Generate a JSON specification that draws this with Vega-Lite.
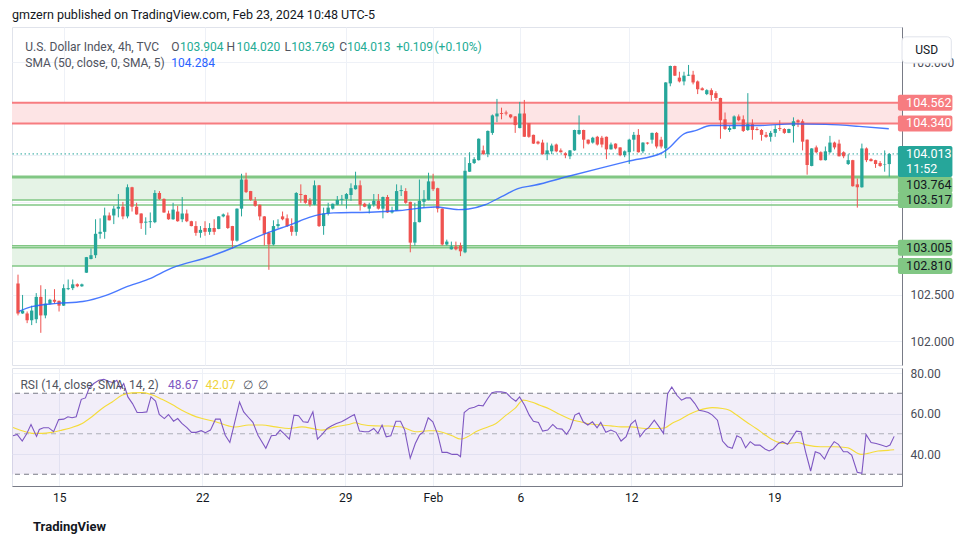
{
"$schema":"https://vega.github.io/schema/vega-lite/v6.json",
"padding":{"left":10,"top":8,"right":0,"bottom":0},
"spacing":0,
"config":{"font":"Roboto","view":{"stroke":"#e0e3eb"},"axis":{"gridColor":"#eef1f7","labelFont":"Roboto","labelFontSize":12,"labelColor":"#131722","ticks":false,"domain":false,"title":null},"title":{"font":"Roboto"}},
"datasets":{
"candles":[
{"n":1,"o":102.622,"h":102.716,"l":102.278,"c":102.299},
{"n":2,"o":102.299,"h":102.498,"l":102.295,"c":102.330},
{"n":3,"o":102.299,"h":102.320,"l":102.195,"c":102.226},
{"n":4,"o":102.226,"h":102.383,"l":102.174,"c":102.330},
{"n":5,"o":102.237,"h":102.518,"l":102.195,"c":102.477},
{"n":6,"o":102.477,"h":102.602,"l":102.091,"c":102.278},
{"n":7,"o":102.278,"h":102.560,"l":102.247,"c":102.404},
{"n":8,"o":102.404,"h":102.456,"l":102.394,"c":102.446},
{"n":9,"o":102.446,"h":102.560,"l":102.404,"c":102.425},
{"n":10,"o":102.435,"h":102.437,"l":102.320,"c":102.383},
{"n":11,"o":102.383,"h":102.612,"l":102.380,"c":102.571},
{"n":12,"o":102.560,"h":102.664,"l":102.550,"c":102.571},
{"n":13,"o":102.571,"h":102.664,"l":102.550,"c":102.612},
{"n":14,"o":102.612,"h":102.622,"l":102.581,"c":102.591},
{"n":15,"o":102.591,"h":102.620,"l":102.585,"c":102.612},
{"n":16,"o":102.737,"h":102.906,"l":102.735,"c":102.904},
{"n":17,"o":102.884,"h":102.998,"l":102.880,"c":102.925},
{"n":18,"o":102.925,"h":103.311,"l":102.894,"c":103.155},
{"n":19,"o":103.155,"h":103.321,"l":103.102,"c":103.176},
{"n":20,"o":103.176,"h":103.436,"l":103.102,"c":103.352},
{"n":21,"o":103.352,"h":103.384,"l":103.298,"c":103.300},
{"n":22,"o":103.352,"h":103.456,"l":103.259,"c":103.425},
{"n":23,"o":103.425,"h":103.582,"l":103.332,"c":103.446},
{"n":24,"o":103.446,"h":103.498,"l":103.311,"c":103.342},
{"n":25,"o":103.342,"h":103.686,"l":103.321,"c":103.655},
{"n":26,"o":103.655,"h":103.660,"l":103.394,"c":103.446},
{"n":27,"o":103.446,"h":103.488,"l":103.360,"c":103.363},
{"n":28,"o":103.373,"h":103.375,"l":103.207,"c":103.269},
{"n":29,"o":103.275,"h":103.332,"l":103.144,"c":103.285},
{"n":30,"o":103.280,"h":103.384,"l":103.217,"c":103.290},
{"n":31,"o":103.280,"h":103.624,"l":103.269,"c":103.593},
{"n":32,"o":103.593,"h":103.614,"l":103.519,"c":103.530},
{"n":33,"o":103.530,"h":103.535,"l":103.380,"c":103.384},
{"n":34,"o":103.373,"h":103.404,"l":103.305,"c":103.311},
{"n":35,"o":103.311,"h":103.488,"l":103.305,"c":103.415},
{"n":36,"o":103.394,"h":103.456,"l":103.285,"c":103.290},
{"n":37,"o":103.311,"h":103.550,"l":103.280,"c":103.373},
{"n":38,"o":103.373,"h":103.415,"l":103.280,"c":103.290},
{"n":39,"o":103.290,"h":103.295,"l":103.235,"c":103.238},
{"n":40,"o":103.238,"h":103.290,"l":103.134,"c":103.165},
{"n":41,"o":103.165,"h":103.238,"l":103.113,"c":103.197},
{"n":42,"o":103.217,"h":103.290,"l":103.134,"c":103.176},
{"n":43,"o":103.176,"h":103.269,"l":103.144,"c":103.217},
{"n":44,"o":103.217,"h":103.311,"l":103.144,"c":103.176},
{"n":45,"o":103.207,"h":103.345,"l":103.204,"c":103.342},
{"n":46,"o":103.342,"h":103.373,"l":103.332,"c":103.363},
{"n":47,"o":103.352,"h":103.384,"l":103.207,"c":103.217},
{"n":48,"o":103.238,"h":103.240,"l":102.998,"c":103.081},
{"n":49,"o":103.081,"h":103.428,"l":103.071,"c":103.425},
{"n":50,"o":103.425,"h":103.800,"l":103.342,"c":103.738},
{"n":51,"o":103.738,"h":103.811,"l":103.593,"c":103.603},
{"n":52,"o":103.614,"h":103.616,"l":103.509,"c":103.519},
{"n":53,"o":103.509,"h":103.550,"l":103.446,"c":103.456},
{"n":54,"o":103.467,"h":103.470,"l":103.300,"c":103.342},
{"n":55,"o":103.342,"h":103.345,"l":103.029,"c":103.155},
{"n":56,"o":103.165,"h":103.176,"l":102.768,"c":103.040},
{"n":57,"o":103.040,"h":103.300,"l":103.029,"c":103.238},
{"n":58,"o":103.238,"h":103.311,"l":103.217,"c":103.259},
{"n":59,"o":103.342,"h":103.394,"l":103.300,"c":103.311},
{"n":60,"o":103.321,"h":103.363,"l":103.228,"c":103.238},
{"n":61,"o":103.238,"h":103.321,"l":103.134,"c":103.176},
{"n":62,"o":103.176,"h":103.603,"l":103.134,"c":103.593},
{"n":63,"o":103.582,"h":103.686,"l":103.488,"c":103.572},
{"n":64,"o":103.572,"h":103.575,"l":103.478,"c":103.488},
{"n":65,"o":103.519,"h":103.540,"l":103.446,"c":103.467},
{"n":66,"o":103.467,"h":103.728,"l":103.462,"c":103.676},
{"n":67,"o":103.676,"h":103.680,"l":103.228,"c":103.238},
{"n":68,"o":103.238,"h":103.436,"l":103.144,"c":103.373},
{"n":69,"o":103.373,"h":103.488,"l":103.352,"c":103.436},
{"n":70,"o":103.425,"h":103.480,"l":103.415,"c":103.478},
{"n":71,"o":103.467,"h":103.561,"l":103.462,"c":103.519},
{"n":72,"o":103.519,"h":103.572,"l":103.467,"c":103.530},
{"n":73,"o":103.530,"h":103.593,"l":103.425,"c":103.582},
{"n":74,"o":103.572,"h":103.697,"l":103.509,"c":103.645},
{"n":75,"o":103.634,"h":103.822,"l":103.630,"c":103.676},
{"n":76,"o":103.676,"h":103.728,"l":103.404,"c":103.467},
{"n":77,"o":103.478,"h":103.488,"l":103.440,"c":103.446},
{"n":78,"o":103.425,"h":103.488,"l":103.373,"c":103.467},
{"n":79,"o":103.467,"h":103.582,"l":103.446,"c":103.509},
{"n":80,"o":103.509,"h":103.582,"l":103.415,"c":103.425},
{"n":81,"o":103.425,"h":103.555,"l":103.321,"c":103.550},
{"n":82,"o":103.550,"h":103.572,"l":103.380,"c":103.384},
{"n":83,"o":103.384,"h":103.446,"l":103.373,"c":103.404},
{"n":84,"o":103.404,"h":103.686,"l":103.400,"c":103.614},
{"n":85,"o":103.614,"h":103.676,"l":103.561,"c":103.624},
{"n":86,"o":103.614,"h":103.645,"l":103.478,"c":103.488},
{"n":87,"o":103.498,"h":103.500,"l":102.956,"c":103.060},
{"n":88,"o":103.060,"h":103.488,"l":103.029,"c":103.280},
{"n":89,"o":103.280,"h":103.738,"l":103.278,"c":103.509},
{"n":90,"o":103.498,"h":103.624,"l":103.436,"c":103.530},
{"n":91,"o":103.519,"h":103.811,"l":103.515,"c":103.718},
{"n":92,"o":103.718,"h":103.800,"l":103.614,"c":103.634},
{"n":93,"o":103.645,"h":103.650,"l":103.384,"c":103.425},
{"n":94,"o":103.425,"h":103.428,"l":103.029,"c":103.040},
{"n":95,"o":103.040,"h":103.092,"l":103.029,"c":103.071},
{"n":96,"o":102.988,"h":103.071,"l":102.985,"c":103.019},
{"n":97,"o":103.019,"h":103.071,"l":102.977,"c":102.988},
{"n":98,"o":103.029,"h":103.060,"l":102.915,"c":102.967},
{"n":99,"o":102.956,"h":103.978,"l":102.946,"c":103.832},
{"n":100,"o":103.822,"h":104.031,"l":103.820,"c":103.915},
{"n":101,"o":103.915,"h":103.978,"l":103.905,"c":103.957},
{"n":102,"o":103.946,"h":104.180,"l":103.942,"c":104.176},
{"n":103,"o":104.051,"h":104.103,"l":104.005,"c":104.010},
{"n":104,"o":104.010,"h":104.265,"l":103.978,"c":104.260},
{"n":105,"o":104.239,"h":104.437,"l":104.218,"c":104.427},
{"n":106,"o":104.416,"h":104.604,"l":104.354,"c":104.447},
{"n":107,"o":104.453,"h":104.510,"l":104.385,"c":104.443},
{"n":108,"o":104.458,"h":104.479,"l":104.427,"c":104.447},
{"n":109,"o":104.437,"h":104.440,"l":104.395,"c":104.406},
{"n":110,"o":104.416,"h":104.420,"l":104.239,"c":104.323},
{"n":111,"o":104.291,"h":104.572,"l":104.288,"c":104.447},
{"n":112,"o":104.447,"h":104.593,"l":104.195,"c":104.197},
{"n":113,"o":104.343,"h":104.345,"l":104.187,"c":104.197},
{"n":114,"o":104.218,"h":104.220,"l":104.120,"c":104.124},
{"n":115,"o":104.145,"h":104.155,"l":104.114,"c":104.124},
{"n":116,"o":104.135,"h":104.166,"l":104.005,"c":104.010},
{"n":117,"o":104.010,"h":104.135,"l":103.946,"c":104.051},
{"n":118,"o":104.041,"h":104.124,"l":104.010,"c":104.103},
{"n":119,"o":104.114,"h":104.124,"l":104.031,"c":104.041},
{"n":120,"o":104.051,"h":104.072,"l":104.028,"c":104.031},
{"n":121,"o":104.020,"h":104.031,"l":103.967,"c":103.999},
{"n":122,"o":103.988,"h":104.055,"l":103.957,"c":104.051},
{"n":123,"o":104.051,"h":104.273,"l":104.048,"c":104.270},
{"n":124,"o":104.228,"h":104.427,"l":104.218,"c":104.270},
{"n":125,"o":104.270,"h":104.273,"l":104.072,"c":104.166},
{"n":126,"o":104.166,"h":104.168,"l":104.114,"c":104.124},
{"n":127,"o":104.135,"h":104.197,"l":104.124,"c":104.187},
{"n":128,"o":104.197,"h":104.207,"l":104.103,"c":104.114},
{"n":129,"o":104.187,"h":104.207,"l":104.083,"c":104.114},
{"n":130,"o":104.197,"h":104.200,"l":103.957,"c":104.062},
{"n":131,"o":104.062,"h":104.135,"l":104.060,"c":104.114},
{"n":132,"o":104.124,"h":104.127,"l":104.062,"c":104.072},
{"n":133,"o":104.083,"h":104.085,"l":103.988,"c":103.999},
{"n":134,"o":103.999,"h":104.051,"l":103.978,"c":104.041},
{"n":135,"o":104.031,"h":104.176,"l":103.905,"c":104.166},
{"n":136,"o":104.166,"h":104.249,"l":104.041,"c":104.218},
{"n":137,"o":104.218,"h":104.280,"l":104.028,"c":104.031},
{"n":138,"o":104.041,"h":104.138,"l":104.020,"c":104.135},
{"n":139,"o":104.135,"h":104.138,"l":104.114,"c":104.124},
{"n":140,"o":104.166,"h":104.242,"l":104.124,"c":104.239},
{"n":141,"o":104.239,"h":104.249,"l":104.072,"c":104.093},
{"n":142,"o":104.166,"h":104.197,"l":104.072,"c":104.093},
{"n":143,"o":104.072,"h":104.784,"l":103.967,"c":104.781},
{"n":144,"o":104.771,"h":104.962,"l":104.740,"c":104.958},
{"n":145,"o":104.958,"h":104.962,"l":104.850,"c":104.854},
{"n":146,"o":104.833,"h":104.896,"l":104.781,"c":104.792},
{"n":147,"o":104.792,"h":104.896,"l":104.750,"c":104.854},
{"n":148,"o":104.854,"h":104.969,"l":104.850,"c":104.864},
{"n":149,"o":104.864,"h":104.906,"l":104.760,"c":104.781},
{"n":150,"o":104.792,"h":104.802,"l":104.656,"c":104.708},
{"n":151,"o":104.718,"h":104.729,"l":104.695,"c":104.698},
{"n":152,"o":104.656,"h":104.708,"l":104.645,"c":104.698},
{"n":153,"o":104.698,"h":104.718,"l":104.583,"c":104.645},
{"n":154,"o":104.666,"h":104.687,"l":104.593,"c":104.614},
{"n":155,"o":104.614,"h":104.617,"l":104.176,"c":104.375},
{"n":156,"o":104.385,"h":104.458,"l":104.270,"c":104.281},
{"n":157,"o":104.270,"h":104.312,"l":104.249,"c":104.291},
{"n":158,"o":104.281,"h":104.427,"l":104.278,"c":104.416},
{"n":159,"o":104.416,"h":104.437,"l":104.364,"c":104.375},
{"n":160,"o":104.385,"h":104.427,"l":104.249,"c":104.260},
{"n":161,"o":104.270,"h":104.666,"l":104.260,"c":104.333},
{"n":162,"o":104.333,"h":104.385,"l":104.166,"c":104.270},
{"n":163,"o":104.281,"h":104.301,"l":104.265,"c":104.270},
{"n":164,"o":104.270,"h":104.281,"l":104.155,"c":104.218},
{"n":165,"o":104.218,"h":104.249,"l":104.187,"c":104.197},
{"n":166,"o":104.197,"h":104.260,"l":104.145,"c":104.239},
{"n":167,"o":104.239,"h":104.322,"l":104.197,"c":104.281},
{"n":168,"o":104.291,"h":104.375,"l":104.260,"c":104.281},
{"n":169,"o":104.281,"h":104.291,"l":104.228,"c":104.239},
{"n":170,"o":104.239,"h":104.284,"l":104.236,"c":104.281},
{"n":171,"o":104.312,"h":104.406,"l":104.135,"c":104.364},
{"n":172,"o":104.375,"h":104.385,"l":104.301,"c":104.354},
{"n":173,"o":104.364,"h":104.385,"l":104.051,"c":104.145},
{"n":174,"o":104.166,"h":104.168,"l":103.790,"c":103.894},
{"n":175,"o":103.884,"h":104.075,"l":103.880,"c":104.072},
{"n":176,"o":104.083,"h":104.103,"l":104.020,"c":104.031},
{"n":177,"o":104.031,"h":104.041,"l":103.942,"c":103.946},
{"n":178,"o":103.946,"h":104.093,"l":103.942,"c":104.041},
{"n":179,"o":104.031,"h":104.207,"l":104.020,"c":104.135},
{"n":180,"o":104.135,"h":104.145,"l":104.062,"c":104.083},
{"n":181,"o":104.124,"h":104.166,"l":103.985,"c":103.988},
{"n":182,"o":104.031,"h":104.041,"l":103.967,"c":103.988},
{"n":183,"o":103.905,"h":104.010,"l":103.894,"c":103.946},
{"n":184,"o":103.946,"h":103.950,"l":103.662,"c":103.666},
{"n":185,"o":103.686,"h":103.749,"l":103.436,"c":103.655},
{"n":186,"o":103.655,"h":104.124,"l":103.650,"c":104.072},
{"n":187,"o":104.072,"h":104.083,"l":103.925,"c":103.946},
{"n":188,"o":103.957,"h":103.967,"l":103.932,"c":103.936},
{"n":189,"o":103.946,"h":103.950,"l":103.863,"c":103.905},
{"n":190,"o":103.915,"h":103.936,"l":103.874,"c":103.884},
{"n":191,"o":103.900,"h":104.051,"l":103.822,"c":103.905},
{"n":192,"o":103.904,"h":104.020,"l":103.769,"c":104.013}
],
"sma":[
{"n":1.15,"v":102.320},{"n":4.0,"v":102.372},{"n":9.5,"v":102.407},{"n":15.2,"v":102.428},{"n":20.3,"v":102.494},{"n":24.6,"v":102.581},{"n":29.6,"v":102.667},{"n":34.8,"v":102.789},{"n":43.1,"v":102.911},{"n":48.1,"v":103.005},{"n":51.7,"v":103.085},{"n":56.1,"v":103.172},{"n":61.1,"v":103.259},{"n":64.7,"v":103.328},{"n":67.3,"v":103.363},{"n":70.2,"v":103.380},{"n":78.1,"v":103.387},{"n":84.7,"v":103.405},{"n":92.5,"v":103.443},{"n":97.6,"v":103.415},{"n":99.8,"v":103.422},{"n":103.4,"v":103.467},{"n":107.0,"v":103.554},{"n":110.6,"v":103.641},{"n":114.2,"v":103.676},{"n":121.5,"v":103.770},{"n":128.7,"v":103.861},{"n":134.8,"v":103.936},{"n":142.1,"v":104.023},{"n":143.4,"v":104.065},{"n":147.1,"v":104.232},{"n":149.3,"v":104.260},{"n":152.9,"v":104.319},{"n":156.5,"v":104.319},{"n":163.7,"v":104.319},{"n":170.9,"v":104.336},{"n":178.1,"v":104.330},{"n":185.4,"v":104.309},{"n":191.9,"v":104.284}
],
"rsi":[
{"n":1.0,"v":49.0},{"n":1.9,"v":49.7},{"n":3.0,"v":46.4},{"n":3.9,"v":49.7},{"n":4.9,"v":54.6},{"n":6.1,"v":48.7},{"n":6.7,"v":52.1},{"n":7.6,"v":53.0},{"n":8.7,"v":53.0},{"n":9.8,"v":51.0},{"n":10.9,"v":57.0},{"n":12.0,"v":57.2},{"n":12.9,"v":58.4},{"n":13.8,"v":57.9},{"n":14.7,"v":58.4},{"n":15.8,"v":67.0},{"n":16.7,"v":67.7},{"n":17.5,"v":72.6},{"n":18.5,"v":74.8},{"n":19.6,"v":76.4},{"n":20.7,"v":76.9},{"n":21.7,"v":75.9},{"n":22.7,"v":75.2},{"n":23.5,"v":76.4},{"n":24.3,"v":72.3},{"n":25.0,"v":74.8},{"n":25.9,"v":68.2},{"n":26.9,"v":64.9},{"n":27.9,"v":60.5},{"n":29.0,"v":60.5},{"n":30.0,"v":60.8},{"n":30.9,"v":68.2},{"n":31.9,"v":66.1},{"n":32.7,"v":59.5},{"n":33.8,"v":57.5},{"n":34.7,"v":59.5},{"n":35.8,"v":56.2},{"n":36.7,"v":57.5},{"n":37.6,"v":55.1},{"n":38.7,"v":53.0},{"n":39.7,"v":50.7},{"n":40.7,"v":50.7},{"n":41.8,"v":51.5},{"n":42.7,"v":50.5},{"n":43.8,"v":51.8},{"n":44.9,"v":57.2},{"n":45.9,"v":57.2},{"n":47.0,"v":49.3},{"n":48.0,"v":45.7},{"n":49.0,"v":55.1},{"n":50.1,"v":65.7},{"n":51.0,"v":60.8},{"n":52.1,"v":57.9},{"n":53.0,"v":55.6},{"n":54.1,"v":49.3},{"n":55.8,"v":42.8},{"n":57.0,"v":49.0},{"n":58.0,"v":49.3},{"n":58.9,"v":51.8},{"n":59.9,"v":49.7},{"n":60.9,"v":47.4},{"n":61.9,"v":59.2},{"n":62.9,"v":58.9},{"n":63.9,"v":55.9},{"n":64.9,"v":55.6},{"n":66.0,"v":60.8},{"n":67.0,"v":47.4},{"n":68.0,"v":49.7},{"n":69.1,"v":52.6},{"n":70.1,"v":53.9},{"n":71.1,"v":55.1},{"n":72.2,"v":55.9},{"n":73.2,"v":57.2},{"n":74.1,"v":58.4},{"n":75.0,"v":59.5},{"n":76.1,"v":51.3},{"n":77.2,"v":51.0},{"n":78.1,"v":51.0},{"n":79.2,"v":52.6},{"n":80.1,"v":50.2},{"n":81.0,"v":54.3},{"n":81.9,"v":48.5},{"n":82.9,"v":49.0},{"n":84.0,"v":56.2},{"n":85.0,"v":56.2},{"n":85.9,"v":51.8},{"n":87.1,"v":37.9},{"n":88.2,"v":45.2},{"n":89.1,"v":49.3},{"n":90.0,"v":51.0},{"n":91.0,"v":57.9},{"n":92.0,"v":55.9},{"n":93.1,"v":49.3},{"n":94.0,"v":40.8},{"n":95.1,"v":40.8},{"n":96.2,"v":39.8},{"n":97.3,"v":39.8},{"n":98.0,"v":38.7},{"n":98.8,"v":60.5},{"n":99.9,"v":62.5},{"n":101.0,"v":63.1},{"n":101.9,"v":64.1},{"n":102.9,"v":63.8},{"n":103.9,"v":67.4},{"n":104.8,"v":70.3},{"n":105.7,"v":70.7},{"n":106.8,"v":70.7},{"n":107.9,"v":70.3},{"n":109.0,"v":67.7},{"n":110.0,"v":66.1},{"n":110.8,"v":68.2},{"n":111.9,"v":64.1},{"n":112.9,"v":59.2},{"n":113.8,"v":56.2},{"n":114.9,"v":55.6},{"n":115.8,"v":51.3},{"n":116.9,"v":51.8},{"n":118.0,"v":54.6},{"n":118.9,"v":52.6},{"n":120.0,"v":52.3},{"n":121.0,"v":49.7},{"n":121.8,"v":52.6},{"n":122.8,"v":59.2},{"n":123.7,"v":60.3},{"n":124.6,"v":55.9},{"n":125.6,"v":54.3},{"n":126.6,"v":55.9},{"n":127.6,"v":52.9},{"n":128.4,"v":55.6},{"n":129.5,"v":50.7},{"n":130.6,"v":51.8},{"n":131.7,"v":50.7},{"n":132.8,"v":46.4},{"n":133.9,"v":48.5},{"n":134.9,"v":54.6},{"n":135.9,"v":56.7},{"n":136.9,"v":48.5},{"n":138.0,"v":51.8},{"n":138.8,"v":53.0},{"n":140.0,"v":56.7},{"n":140.9,"v":53.9},{"n":142.0,"v":50.2},{"n":142.9,"v":69.8},{"n":143.8,"v":73.1},{"n":144.9,"v":69.0},{"n":145.9,"v":66.6},{"n":146.9,"v":67.7},{"n":147.8,"v":67.7},{"n":148.8,"v":64.9},{"n":149.7,"v":61.6},{"n":150.8,"v":61.1},{"n":151.7,"v":60.5},{"n":152.6,"v":59.2},{"n":153.7,"v":56.7},{"n":154.8,"v":46.4},{"n":155.9,"v":43.6},{"n":156.9,"v":42.8},{"n":157.9,"v":49.0},{"n":158.8,"v":48.0},{"n":159.8,"v":43.1},{"n":160.8,"v":46.1},{"n":161.8,"v":44.4},{"n":162.9,"v":44.4},{"n":164.0,"v":42.5},{"n":164.9,"v":41.5},{"n":165.8,"v":42.5},{"n":166.9,"v":45.2},{"n":167.8,"v":46.1},{"n":168.9,"v":44.8},{"n":169.8,"v":47.7},{"n":170.8,"v":51.3},{"n":171.8,"v":51.0},{"n":172.8,"v":41.1},{"n":173.9,"v":31.6},{"n":174.9,"v":41.1},{"n":175.9,"v":40.3},{"n":176.9,"v":37.5},{"n":177.9,"v":42.5},{"n":179.0,"v":46.1},{"n":179.9,"v":44.8},{"n":181.0,"v":41.1},{"n":181.9,"v":41.1},{"n":182.8,"v":39.5},{"n":184.0,"v":31.0},{"n":185.0,"v":30.5},{"n":185.9,"v":49.7},{"n":187.0,"v":45.7},{"n":188.1,"v":45.2},{"n":189.2,"v":44.4},{"n":190.3,"v":43.6},{"n":191.1,"v":44.4},{"n":192.0,"v":48.7}
],
"rsima":[
{"n":1.0,"v":53.1},{"n":2.95,"v":51.5},{"n":5.1,"v":50.2},{"n":7.3,"v":50.2},{"n":9.4,"v":50.7},{"n":11.6,"v":51.8},{"n":13.8,"v":53.1},{"n":16.0,"v":55.1},{"n":18.1,"v":58.4},{"n":20.3,"v":62.5},{"n":22.5,"v":65.7},{"n":24.6,"v":69.0},{"n":26.8,"v":70.2},{"n":29.0,"v":70.3},{"n":31.1,"v":69.3},{"n":33.3,"v":67.0},{"n":35.5,"v":64.4},{"n":37.6,"v":61.6},{"n":39.8,"v":59.2},{"n":42.0,"v":57.5},{"n":44.9,"v":55.9},{"n":47.7,"v":53.9},{"n":49.2,"v":53.3},{"n":52.1,"v":54.3},{"n":55.0,"v":54.3},{"n":57.9,"v":53.4},{"n":60.8,"v":52.6},{"n":63.6,"v":53.4},{"n":66.5,"v":52.3},{"n":68.0,"v":51.8},{"n":70.9,"v":53.4},{"n":73.8,"v":54.6},{"n":75.2,"v":55.4},{"n":76.6,"v":54.6},{"n":79.5,"v":53.9},{"n":82.4,"v":53.8},{"n":85.3,"v":53.3},{"n":88.2,"v":51.0},{"n":91.1,"v":51.5},{"n":92.5,"v":51.5},{"n":94.0,"v":50.7},{"n":96.2,"v":49.0},{"n":98.0,"v":47.4},{"n":99.5,"v":48.5},{"n":101.3,"v":51.0},{"n":103.5,"v":53.0},{"n":105.7,"v":55.1},{"n":107.9,"v":59.2},{"n":109.8,"v":62.5},{"n":111.6,"v":66.6},{"n":113.4,"v":65.7},{"n":115.2,"v":64.1},{"n":117.4,"v":62.1},{"n":119.6,"v":59.5},{"n":121.8,"v":57.2},{"n":124.0,"v":55.9},{"n":126.2,"v":54.8},{"n":128.4,"v":54.3},{"n":130.6,"v":53.9},{"n":132.8,"v":53.4},{"n":135.0,"v":53.4},{"n":138.0,"v":52.6},{"n":140.9,"v":52.6},{"n":142.4,"v":53.0},{"n":143.8,"v":55.1},{"n":145.3,"v":56.7},{"n":147.5,"v":59.5},{"n":149.7,"v":61.6},{"n":152.6,"v":62.9},{"n":154.8,"v":62.5},{"n":156.3,"v":61.6},{"n":157.7,"v":59.5},{"n":159.9,"v":55.9},{"n":162.1,"v":52.6},{"n":164.3,"v":49.0},{"n":166.5,"v":46.1},{"n":168.7,"v":45.2},{"n":170.9,"v":45.7},{"n":173.1,"v":44.4},{"n":176.0,"v":43.6},{"n":179.0,"v":43.6},{"n":181.9,"v":43.1},{"n":184.8,"v":39.8},{"n":186.3,"v":40.3},{"n":188.5,"v":41.5},{"n":190.7,"v":41.8},{"n":192.0,"v":42.1}
]
},
"vconcat":[
{
"width":890,"height":338,
"title":{"text":"gmzern published on TradingView.com, Feb 23, 2024 10:48 UTC-5","anchor":"start","frame":"group","fontSize":12.5,"fontWeight":"normal","color":"#131722","offset":6},
"layer":[
{"data":{"values":[{"hi":104.562,"lo":104.340}]},
 "mark":{"type":"rect","color":"#fde4e5"},
 "encoding":{"y":{"field":"hi","type":"quantitative","scale":{"domain":[101.799,105.323],"nice":false,"zero":false}},"y2":{"field":"lo"}}},
{"data":{"values":[{"hi":103.764,"lo":103.517},{"hi":103.026,"lo":102.810}]},
 "mark":{"type":"rect","color":"#e5f3e6"},
 "encoding":{"y":{"field":"hi","type":"quantitative"},"y2":{"field":"lo"}}},
{"data":{"values":[{"p":104.562},{"p":104.340}]},
 "mark":{"type":"rule","color":"#f77c80","strokeWidth":2},
 "encoding":{"y":{"field":"p","type":"quantitative"}}},
{"data":{"values":[{"p":103.764}]},
 "mark":{"type":"rule","color":"#81c784","strokeWidth":3},
 "encoding":{"y":{"field":"p","type":"quantitative"}}},
{"data":{"values":[{"p":103.517},{"p":103.464},{"p":103.026},{"p":103.005},{"p":102.810}]},
 "mark":{"type":"rule","color":"#81c784","strokeWidth":1.5},
 "encoding":{"y":{"field":"p","type":"quantitative"}}},
{"data":{"values":[{"p":104.013}]},
 "mark":{"type":"rule","color":"#26a69a","strokeDash":[1.5,2.5],"strokeWidth":1},
 "encoding":{"y":{"field":"p","type":"quantitative"}}},
{"data":{"name":"candles"},
 "mark":{"type":"rule","strokeWidth":1},
 "encoding":{
  "x":{"field":"n","type":"quantitative","scale":{"domain":[0.78,193.7],"nice":false,"zero":false},
   "axis":{"values":[11,42,73,92,111,135,166],"labels":false,"grid":true,"domain":false}},
  "y":{"field":"l","type":"quantitative","axis":{"orient":"right","values":[102,102.5,103,103.5,104,104.5,105],"labelExpr":"datum.value < 102.75 || datum.value > 104.75 ? format(datum.value, '.3f') : ''","grid":true,"domain":true,"domainColor":"#787b86","labelPadding":8,"labelColor":"#4a4d57"}},
  "y2":{"field":"h"},
  "color":{"condition":{"test":"datum.c >= datum.o","value":"#26a69a"},"value":"#ef5350"}}},
{"data":{"name":"candles"},
 "mark":{"type":"bar","size":3.3},
 "encoding":{
  "x":{"field":"n","type":"quantitative"},
  "y":{"field":"o","type":"quantitative"},
  "y2":{"field":"c"},
  "color":{"condition":{"test":"datum.c >= datum.o","value":"#26a69a"},"value":"#ef5350"}}},
{"data":{"name":"sma"},
 "mark":{"type":"line","color":"#2962ff","strokeWidth":1.4,"opacity":0.85,"interpolate":"monotone"},
 "encoding":{"x":{"field":"n","type":"quantitative"},"y":{"field":"v","type":"quantitative"}}},
{"data":{"values":[{"p":104.562},{"p":104.340}]},
 "mark":{"type":"bar","size":16,"cornerRadius":2,"color":"#f77c80"},
 "encoding":{"x":{"datum":193.9,"type":"quantitative"},"x2":{"datum":205.85},"y":{"field":"p","type":"quantitative"}}},
{"data":{"values":[{"p":103.517},{"p":103.005},{"p":102.810}]},
 "mark":{"type":"bar","size":16,"cornerRadius":2,"color":"#81c784"},
 "encoding":{"x":{"datum":193.9,"type":"quantitative"},"x2":{"datum":205.85},"y":{"field":"p","type":"quantitative"}}},
{"data":{"values":[{"p":103.764}]},
 "mark":{"type":"bar","size":16,"cornerRadius":2,"yOffset":8,"color":"#81c784"},
 "encoding":{"x":{"datum":193.9,"type":"quantitative"},"x2":{"datum":205.85},"y":{"field":"p","type":"quantitative"}}},
{"data":{"values":[{"p":104.013}]},
 "mark":{"type":"bar","size":31,"cornerRadius":2,"yOffset":7.5,"color":"#26a69a"},
 "encoding":{"x":{"datum":193.9,"type":"quantitative"},"x2":{"datum":205.85},"y":{"field":"p","type":"quantitative"}}},
{"data":{"values":[{"p":104.562},{"p":104.340}]},
 "mark":{"type":"text","align":"left","baseline":"middle","fontSize":12.5,"color":"#ffffff"},
 "encoding":{"x":{"datum":195.7,"type":"quantitative"},"y":{"field":"p","type":"quantitative"},"text":{"field":"p","type":"quantitative","format":".3f"}}},
{"data":{"values":[{"p":103.517},{"p":103.005},{"p":102.810}]},
 "mark":{"type":"text","align":"left","baseline":"middle","fontSize":12.5,"color":"#131722"},
 "encoding":{"x":{"datum":195.7,"type":"quantitative"},"y":{"field":"p","type":"quantitative"},"text":{"field":"p","type":"quantitative","format":".3f"}}},
{"data":{"values":[{"p":103.764}]},
 "mark":{"type":"text","align":"left","baseline":"middle","fontSize":12.5,"yOffset":8,"color":"#131722"},
 "encoding":{"x":{"datum":195.7,"type":"quantitative"},"y":{"field":"p","type":"quantitative"},"text":{"field":"p","type":"quantitative","format":".3f"}}},
{"data":{"values":[{"p":104.013}]},
 "mark":{"type":"text","align":"left","baseline":"middle","fontSize":12.5,"color":"#ffffff"},
 "encoding":{"x":{"datum":195.7,"type":"quantitative"},"y":{"field":"p","type":"quantitative"},"text":{"field":"p","type":"quantitative","format":".3f"}}},
{"data":{"values":[{"p":104.013,"t":"11:52"}]},
 "mark":{"type":"text","align":"left","baseline":"middle","fontSize":12.5,"yOffset":15,"color":"#ffffff"},
 "encoding":{"x":{"datum":195.7,"type":"quantitative"},"y":{"field":"p","type":"quantitative"},"text":{"field":"t"}}},
{"data":{"values":[{}]},
 "mark":{"type":"rect","fill":"#ffffff","stroke":"#e0e3eb","cornerRadius":4},
 "encoding":{"x":{"datum":194.8,"type":"quantitative"},"x2":{"datum":205.6},"y":{"datum":105.271,"type":"quantitative"},"y2":{"datum":104.99}}},
{"data":{"values":[{}]},
 "mark":{"type":"text","align":"center","baseline":"middle","fontSize":12,"color":"#131722"},
 "encoding":{"x":{"datum":200.2,"type":"quantitative"},"y":{"datum":105.13,"type":"quantitative"},"text":{"value":"USD"}}},
{"data":{"values":[{}]},"mark":{"type":"text","align":"left","baseline":"middle","fontSize":12,"color":"#50535e"},
 "encoding":{"x":{"datum":2.6,"type":"quantitative"},"y":{"datum":105.16,"type":"quantitative"},"text":{"value":"U.S. Dollar Index, 4h, TVC"}}},
{"data":{"values":[{}]},"mark":{"type":"text","align":"left","baseline":"middle","fontSize":12,"color":"#50535e"},
 "encoding":{"x":{"datum":34.6,"type":"quantitative"},"y":{"datum":105.16,"type":"quantitative"},"text":{"value":"O"}}},
{"data":{"values":[{}]},"mark":{"type":"text","align":"left","baseline":"middle","fontSize":12,"color":"#22ab94"},
 "encoding":{"x":{"datum":36.5,"type":"quantitative"},"y":{"datum":105.16,"type":"quantitative"},"text":{"value":"103.904"}}},
{"data":{"values":[{}]},"mark":{"type":"text","align":"left","baseline":"middle","fontSize":12,"color":"#50535e"},
 "encoding":{"x":{"datum":46.7,"type":"quantitative"},"y":{"datum":105.16,"type":"quantitative"},"text":{"value":"H"}}},
{"data":{"values":[{}]},"mark":{"type":"text","align":"left","baseline":"middle","fontSize":12,"color":"#22ab94"},
 "encoding":{"x":{"datum":48.9,"type":"quantitative"},"y":{"datum":105.16,"type":"quantitative"},"text":{"value":"104.020"}}},
{"data":{"values":[{}]},"mark":{"type":"text","align":"left","baseline":"middle","fontSize":12,"color":"#50535e"},
 "encoding":{"x":{"datum":59.4,"type":"quantitative"},"y":{"datum":105.16,"type":"quantitative"},"text":{"value":"L"}}},
{"data":{"values":[{}]},"mark":{"type":"text","align":"left","baseline":"middle","fontSize":12,"color":"#22ab94"},
 "encoding":{"x":{"datum":60.9,"type":"quantitative"},"y":{"datum":105.16,"type":"quantitative"},"text":{"value":"103.769"}}},
{"data":{"values":[{}]},"mark":{"type":"text","align":"left","baseline":"middle","fontSize":12,"color":"#50535e"},
 "encoding":{"x":{"datum":71.4,"type":"quantitative"},"y":{"datum":105.16,"type":"quantitative"},"text":{"value":"C"}}},
{"data":{"values":[{}]},"mark":{"type":"text","align":"left","baseline":"middle","fontSize":12,"color":"#22ab94"},
 "encoding":{"x":{"datum":73.1,"type":"quantitative"},"y":{"datum":105.16,"type":"quantitative"},"text":{"value":"104.013"}}},
{"data":{"values":[{}]},"mark":{"type":"text","align":"left","baseline":"middle","fontSize":12,"color":"#22ab94"},
 "encoding":{"x":{"datum":83.9,"type":"quantitative"},"y":{"datum":105.16,"type":"quantitative"},"text":{"value":"+0.109"}}},
{"data":{"values":[{}]},"mark":{"type":"text","align":"left","baseline":"middle","fontSize":12,"color":"#22ab94"},
 "encoding":{"x":{"datum":92.3,"type":"quantitative"},"y":{"datum":105.16,"type":"quantitative"},"text":{"value":"(+0.10%)"}}},
{"data":{"values":[{}]},"mark":{"type":"text","align":"left","baseline":"middle","fontSize":12,"color":"#50535e"},
 "encoding":{"x":{"datum":2.6,"type":"quantitative"},"y":{"datum":104.987,"type":"quantitative"},"text":{"value":"SMA (50, close, 0, SMA, 5)"}}},
{"data":{"values":[{}]},"mark":{"type":"text","align":"left","baseline":"middle","fontSize":12,"color":"#2962ff"},
 "encoding":{"x":{"datum":34.6,"type":"quantitative"},"y":{"datum":104.987,"type":"quantitative"},"text":{"value":"104.284"}}}
]
},
{
"width":890,"height":118,
"title":{"text":"TradingView","orient":"bottom","anchor":"start","frame":"group","fontSize":13,"fontWeight":"bold","color":"#131722","offset":18,"dx":21},
"layer":[
{"data":{"values":[{}]},
 "mark":{"type":"rect","color":"#7e57c2","opacity":0.1},
 "encoding":{"y":{"datum":70,"type":"quantitative","scale":{"domain":[24.2,82.47],"nice":false,"zero":false}},"y2":{"datum":30}}},
{"data":{"values":[{"v":70},{"v":30}]},
 "mark":{"type":"rule","color":"#787b86","strokeDash":[5,4],"strokeWidth":1},
 "encoding":{"y":{"field":"v","type":"quantitative"}}},
{"data":{"values":[{"v":50}]},
 "mark":{"type":"rule","color":"#787b86","strokeDash":[5,4],"strokeWidth":1,"opacity":0.55},
 "encoding":{"y":{"field":"v","type":"quantitative"}}},
{"data":{"name":"rsima"},
 "mark":{"type":"line","color":"#f5dc3a","strokeWidth":1.1,"interpolate":"monotone"},
 "encoding":{"x":{"field":"n","type":"quantitative"},"y":{"field":"v","type":"quantitative"}}},
{"data":{"name":"rsi"},
 "mark":{"type":"line","color":"#7e57c2","strokeWidth":1.1},
 "encoding":{
  "x":{"field":"n","type":"quantitative","scale":{"domain":[0.78,193.7],"nice":false,"zero":false},
   "axis":{"values":[11,42,73,92,111,135,166],"grid":true,"domain":true,"domainColor":"#787b86","labelPadding":6,"labelColor":"#131722",
    "labelExpr":"datum.value == 11 ? '15' : datum.value == 42 ? '22' : datum.value == 73 ? '29' : datum.value == 92 ? 'Feb' : datum.value == 111 ? '6' : datum.value == 135 ? '12' : '19'"}},
  "y":{"field":"v","type":"quantitative","axis":{"orient":"right","values":[40,60,80],"format":".2f","grid":true,"domain":true,"domainColor":"#787b86","labelPadding":8,"labelColor":"#4a4d57"}}}},
{"data":{"values":[{}]},"mark":{"type":"text","align":"left","baseline":"middle","fontSize":12,"color":"#50535e"},
 "encoding":{"x":{"datum":2.6,"type":"quantitative"},"y":{"datum":74.3,"type":"quantitative"},"text":{"value":"RSI (14, close, SMA, 14, 2)"}}},
{"data":{"values":[{}]},"mark":{"type":"text","align":"left","baseline":"middle","fontSize":12,"color":"#7e57c2"},
 "encoding":{"x":{"datum":34.6,"type":"quantitative"},"y":{"datum":74.3,"type":"quantitative"},"text":{"value":"48.67"}}},
{"data":{"values":[{}]},"mark":{"type":"text","align":"left","baseline":"middle","fontSize":12,"color":"#f0d43a"},
 "encoding":{"x":{"datum":42.7,"type":"quantitative"},"y":{"datum":74.3,"type":"quantitative"},"text":{"value":"42.07"}}},
{"data":{"values":[{}]},"mark":{"type":"text","align":"left","baseline":"middle","fontSize":12,"color":"#50535e"},
 "encoding":{"x":{"datum":50.8,"type":"quantitative"},"y":{"datum":74.3,"type":"quantitative"},"text":{"value":"∅"}}},
{"data":{"values":[{}]},"mark":{"type":"text","align":"left","baseline":"middle","fontSize":12,"color":"#50535e"},
 "encoding":{"x":{"datum":54.1,"type":"quantitative"},"y":{"datum":74.3,"type":"quantitative"},"text":{"value":"∅"}}}
]
}
]
}
